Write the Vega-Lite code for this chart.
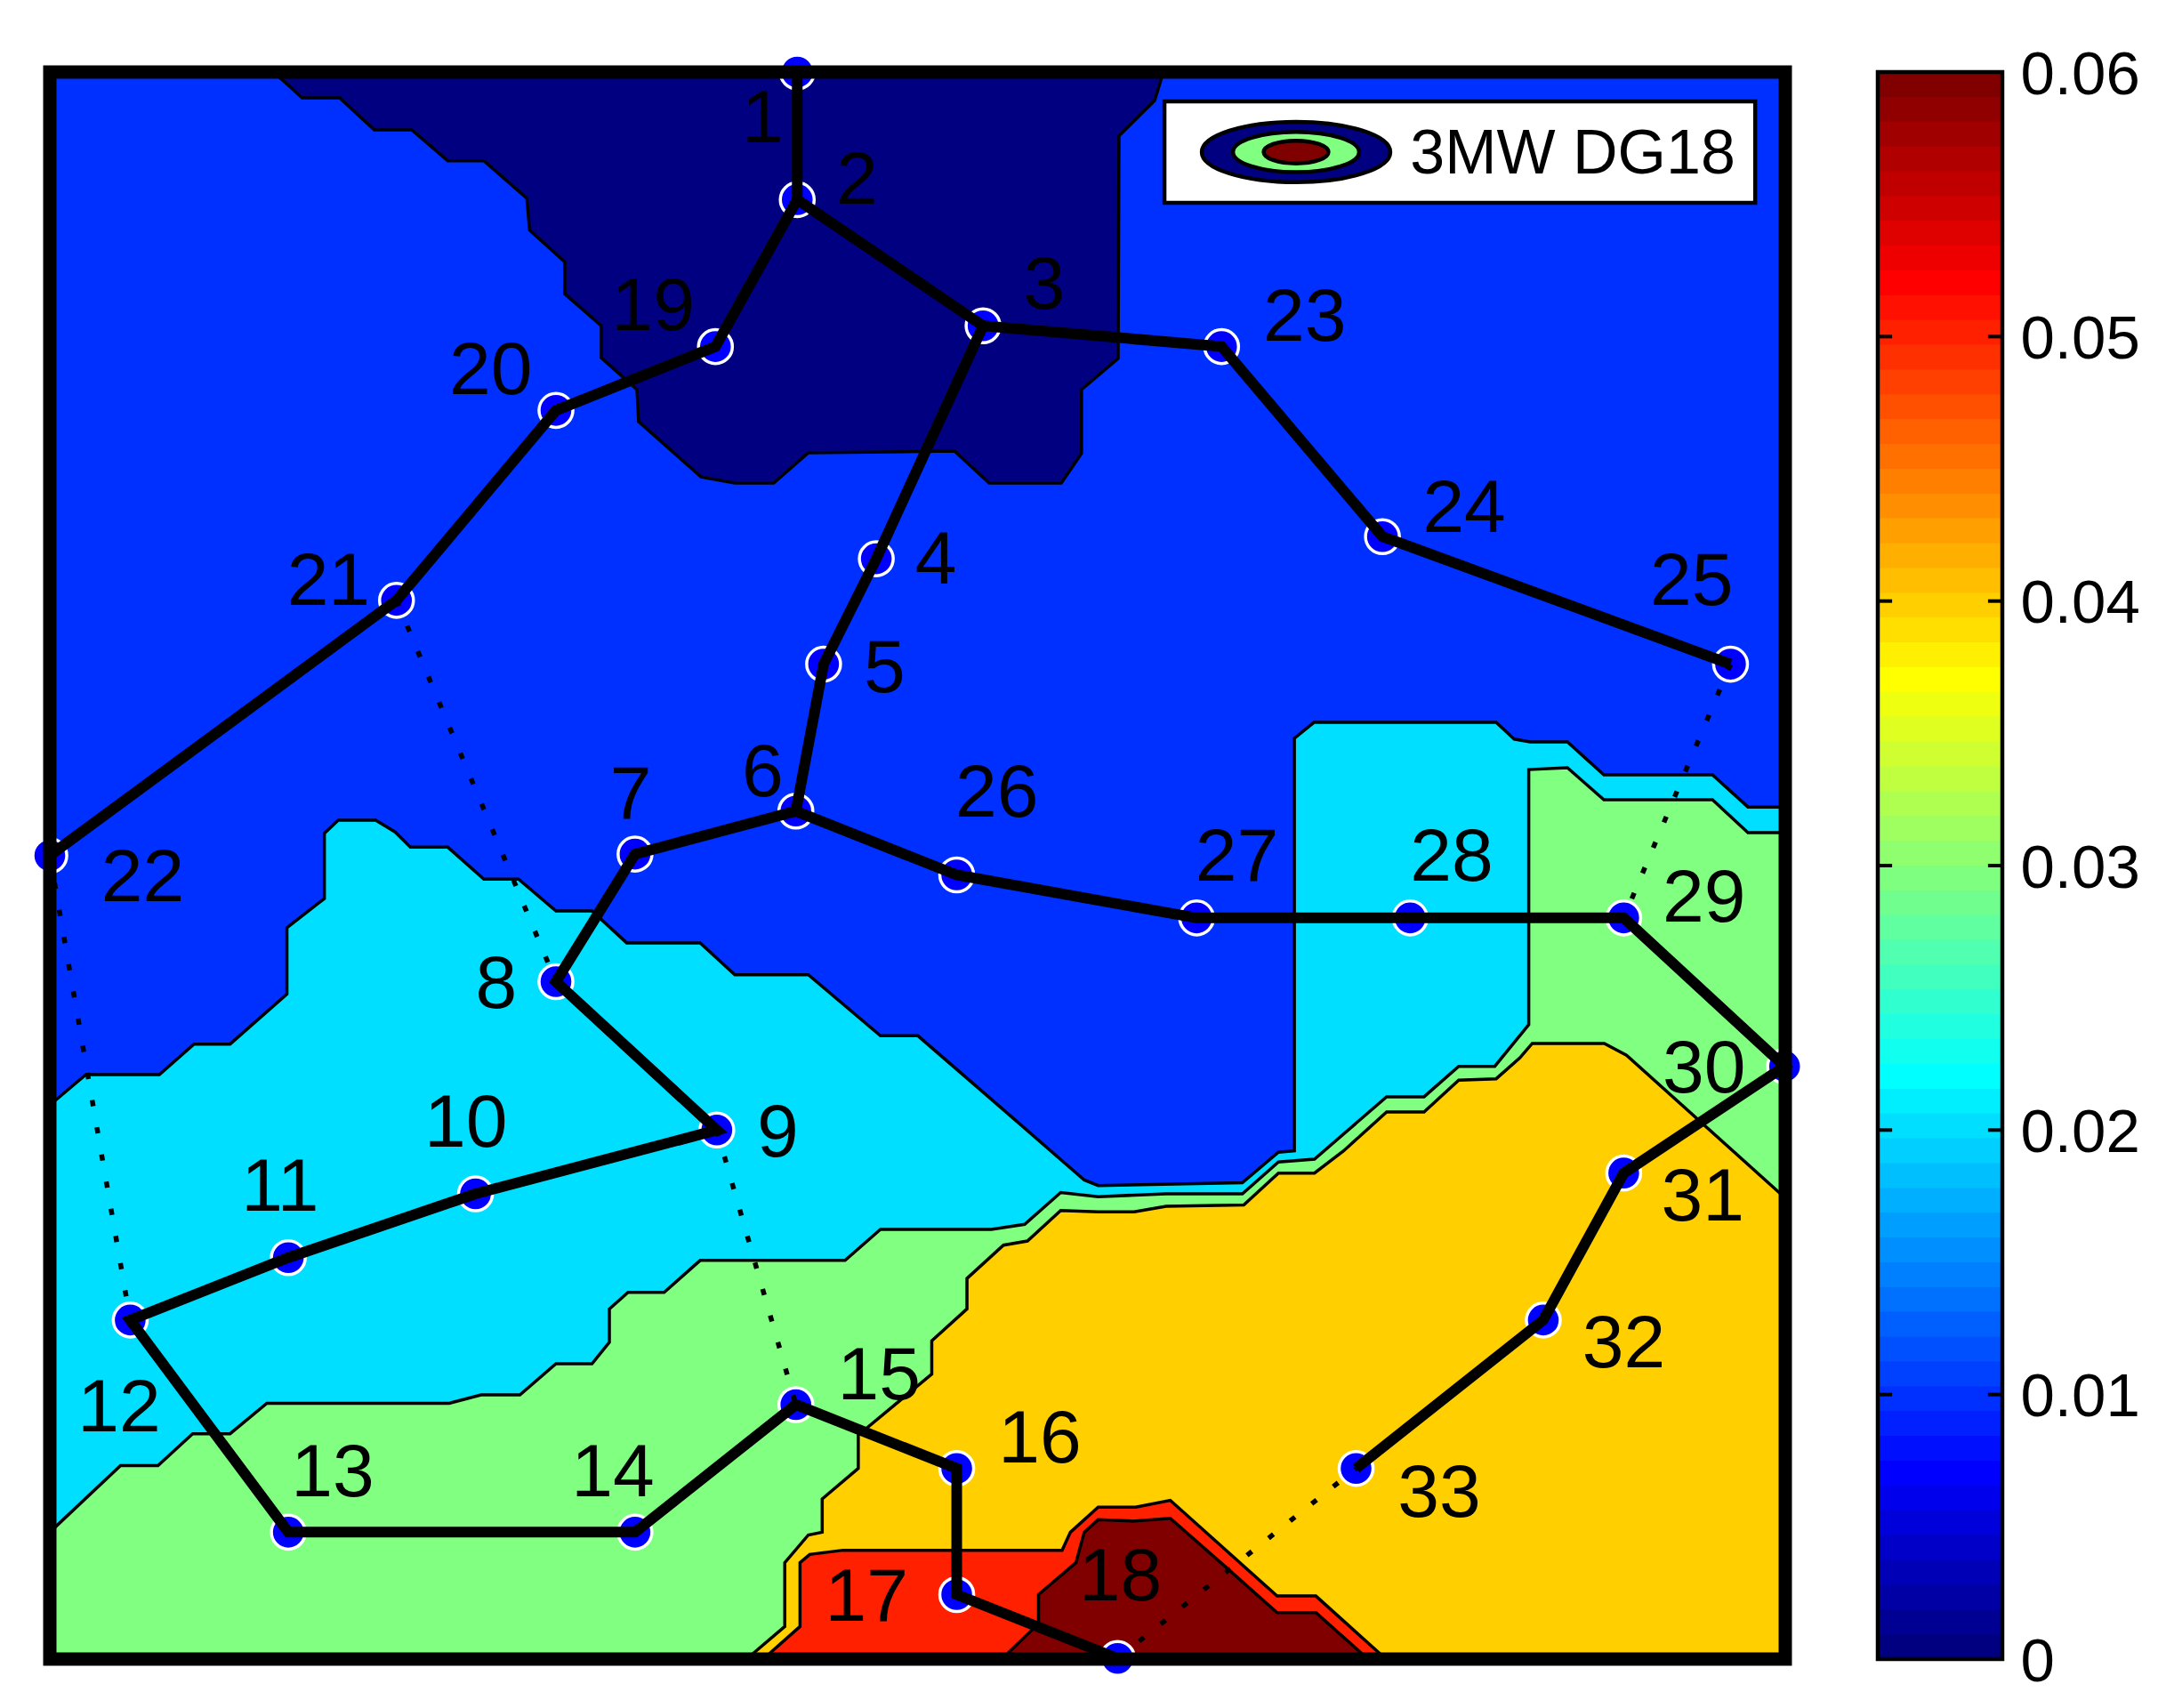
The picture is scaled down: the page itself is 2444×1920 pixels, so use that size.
{
"$schema":"https://vega.github.io/schema/vega-lite/v6.json",
"background":"white",
"padding":{"left":29,"top":50,"right":0,"bottom":0},
"config":{"view":{"stroke":null},"font":"Liberation Sans"},
"spacing":104,
"bounds":"flush",
"datasets":{
"frame":[{"x":36,"y":52,"x2":1287.5,"y2":1196.5}],
"navy":[{"x":197,"y":52},{"x":203,"y":57},{"x":218,"y":70.6},{"x":245,"y":70.6},{"x":270,"y":93.7},{"x":297,"y":93.7},{"x":323,"y":116},{"x":349,"y":116},{"x":380,"y":143},{"x":382,"y":166},{"x":407.4,"y":189},{"x":407.4,"y":212},{"x":433.7,"y":235},{"x":433.7,"y":258},{"x":459.4,"y":281},{"x":460.6,"y":304},{"x":505.6,"y":344},{"x":530,"y":348.4},{"x":558,"y":348.4},{"x":583,"y":326.5},{"x":688.4,"y":325.3},{"x":713.4,"y":348.4},{"x":765.4,"y":348.4},{"x":780,"y":327},{"x":780,"y":281},{"x":806.4,"y":258.5},{"x":807,"y":98},{"x":832.7,"y":72.5},{"x":839,"y":52}],
"bands":[
{"level":"0.02","x":36,"y":797},{"level":"0.02","x":62,"y":775},{"level":"0.02","x":115,"y":775},{"level":"0.02","x":140,"y":753},{"level":"0.02","x":166,"y":753},{"level":"0.02","x":207,"y":717},{"level":"0.02","x":207,"y":669},{"level":"0.02","x":234,"y":648},{"level":"0.02","x":234,"y":601},{"level":"0.02","x":244,"y":591.5},{"level":"0.02","x":271,"y":591.5},{"level":"0.02","x":285,"y":600},{"level":"0.02","x":296,"y":611},{"level":"0.02","x":323,"y":611},{"level":"0.02","x":349,"y":634},{"level":"0.02","x":374,"y":634},{"level":"0.02","x":401,"y":657},{"level":"0.02","x":427,"y":657},{"level":"0.02","x":452,"y":680},{"level":"0.02","x":505,"y":680},{"level":"0.02","x":530,"y":703},{"level":"0.02","x":583,"y":703},{"level":"0.02","x":635,"y":747},{"level":"0.02","x":662,"y":747},{"level":"0.02","x":706,"y":785},{"level":"0.02","x":782,"y":851},{"level":"0.02","x":792,"y":855},{"level":"0.02","x":896,"y":853},{"level":"0.02","x":922,"y":831},{"level":"0.02","x":933.5,"y":830},{"level":"0.02","x":933.5,"y":532.5},{"level":"0.02","x":947.6,"y":521},{"level":"0.02","x":1079,"y":521},{"level":"0.02","x":1092,"y":533},{"level":"0.02","x":1103.5,"y":535},{"level":"0.02","x":1130.4,"y":535},{"level":"0.02","x":1156.7,"y":558.8},{"level":"0.02","x":1235,"y":558.8},{"level":"0.02","x":1260.6,"y":582},{"level":"0.02","x":1287.5,"y":582},
{"level":"0.03","x":36,"y":1105},{"level":"0.03","x":87,"y":1057},{"level":"0.03","x":114,"y":1057},{"level":"0.03","x":139,"y":1034},{"level":"0.03","x":166,"y":1034},{"level":"0.03","x":192.5,"y":1012},{"level":"0.03","x":324,"y":1012},{"level":"0.03","x":347,"y":1006},{"level":"0.03","x":375,"y":1006},{"level":"0.03","x":401,"y":983.5},{"level":"0.03","x":427,"y":983.5},{"level":"0.03","x":439.5,"y":968},{"level":"0.03","x":439.5,"y":944},{"level":"0.03","x":453,"y":932},{"level":"0.03","x":479,"y":932},{"level":"0.03","x":505,"y":909},{"level":"0.03","x":609.5,"y":909},{"level":"0.03","x":635,"y":886.6},{"level":"0.03","x":715,"y":886.6},{"level":"0.03","x":739,"y":883},{"level":"0.03","x":765,"y":860},{"level":"0.03","x":792,"y":863},{"level":"0.03","x":841,"y":861},{"level":"0.03","x":896,"y":861},{"level":"0.03","x":922,"y":838},{"level":"0.03","x":948,"y":836},{"level":"0.03","x":1000,"y":791},{"level":"0.03","x":1027,"y":791},{"level":"0.03","x":1052,"y":769},{"level":"0.03","x":1078,"y":769},{"level":"0.03","x":1102.5,"y":739},{"level":"0.03","x":1102.5,"y":555},{"level":"0.03","x":1130.4,"y":553.7},{"level":"0.03","x":1156.7,"y":576.8},{"level":"0.03","x":1235,"y":576.8},{"level":"0.03","x":1260.6,"y":600.5},{"level":"0.03","x":1287.5,"y":600.5},
{"level":"0.04","x":539,"y":1196},{"level":"0.04","x":566,"y":1173},{"level":"0.04","x":566,"y":1127},{"level":"0.04","x":583,"y":1107},{"level":"0.04","x":593,"y":1105},{"level":"0.04","x":593,"y":1081},{"level":"0.04","x":619,"y":1059},{"level":"0.04","x":619,"y":1035},{"level":"0.04","x":672,"y":991},{"level":"0.04","x":672,"y":967},{"level":"0.04","x":697.4,"y":944},{"level":"0.04","x":697.4,"y":922},{"level":"0.04","x":723.7,"y":898},{"level":"0.04","x":741,"y":895},{"level":"0.04","x":765,"y":873},{"level":"0.04","x":792,"y":874},{"level":"0.04","x":818,"y":874},{"level":"0.04","x":841,"y":870},{"level":"0.04","x":897,"y":869},{"level":"0.04","x":922,"y":846},{"level":"0.04","x":948,"y":846},{"level":"0.04","x":969,"y":830},{"level":"0.04","x":1000,"y":802},{"level":"0.04","x":1027,"y":802},{"level":"0.04","x":1052,"y":779},{"level":"0.04","x":1079,"y":778},{"level":"0.04","x":1096,"y":763},{"level":"0.04","x":1105,"y":752.5},{"level":"0.04","x":1157,"y":752.5},{"level":"0.04","x":1173,"y":761},{"level":"0.04","x":1287.5,"y":864},
{"level":"0.05","x":551,"y":1196},{"level":"0.05","x":577,"y":1173},{"level":"0.05","x":577,"y":1127},{"level":"0.05","x":584,"y":1121},{"level":"0.05","x":608,"y":1118},{"level":"0.05","x":766,"y":1118},{"level":"0.05","x":772,"y":1105},{"level":"0.05","x":792,"y":1087},{"level":"0.05","x":819,"y":1087},{"level":"0.05","x":844,"y":1082},{"level":"0.05","x":921,"y":1151},{"level":"0.05","x":949,"y":1151},{"level":"0.05","x":999,"y":1196},
{"level":"0.06","x":723,"y":1196},{"level":"0.06","x":749,"y":1171},{"level":"0.06","x":749,"y":1150},{"level":"0.06","x":776,"y":1127},{"level":"0.06","x":782,"y":1105},{"level":"0.06","x":792,"y":1096},{"level":"0.06","x":817,"y":1097},{"level":"0.06","x":844,"y":1095},{"level":"0.06","x":885,"y":1131},{"level":"0.06","x":921,"y":1163},{"level":"0.06","x":949,"y":1163},{"level":"0.06","x":986,"y":1196}],
"nodes":[{"x":575,"y":52},{"x":575,"y":144},{"x":709,"y":235},{"x":632,"y":403},{"x":594,"y":479},{"x":574,"y":585},{"x":458,"y":616},{"x":401,"y":708},{"x":517,"y":815},{"x":343,"y":861},{"x":208,"y":907},{"x":94,"y":952},{"x":208,"y":1105},{"x":458,"y":1105},{"x":574,"y":1013},{"x":690,"y":1059},{"x":690,"y":1150},{"x":806,"y":1196},{"x":516,"y":250},{"x":401,"y":296},{"x":286,"y":433},{"x":36,"y":617},{"x":881,"y":250},{"x":997,"y":387},{"x":1248,"y":479},{"x":690,"y":631},{"x":863,"y":662},{"x":1017,"y":662},{"x":1171,"y":662},{"x":1287,"y":769},{"x":1171,"y":846},{"x":1113,"y":952},{"x":978,"y":1059}],
"feeders":[
{"path":"a","i":0,"x":575,"y":52},{"path":"a","i":1,"x":575,"y":144},{"path":"a","i":2,"x":709,"y":235},{"path":"a","i":3,"x":632,"y":403},{"path":"a","i":4,"x":594,"y":479},{"path":"a","i":5,"x":574,"y":585},{"path":"a","i":6,"x":458,"y":616},{"path":"a","i":7,"x":401,"y":708},{"path":"a","i":8,"x":517,"y":815},{"path":"a","i":9,"x":343,"y":861},{"path":"a","i":10,"x":208,"y":907},{"path":"a","i":11,"x":94,"y":952},{"path":"a","i":12,"x":208,"y":1105},{"path":"a","i":13,"x":458,"y":1105},{"path":"a","i":14,"x":574,"y":1013},{"path":"a","i":15,"x":690,"y":1059},{"path":"a","i":16,"x":690,"y":1150},{"path":"a","i":17,"x":806,"y":1196},
{"path":"b","i":0,"x":575,"y":144},{"path":"b","i":1,"x":516,"y":250},{"path":"b","i":2,"x":401,"y":296},{"path":"b","i":3,"x":286,"y":433},{"path":"b","i":4,"x":36,"y":617},
{"path":"c","i":0,"x":709,"y":235},{"path":"c","i":1,"x":881,"y":250},{"path":"c","i":2,"x":997,"y":387},{"path":"c","i":3,"x":1248,"y":479},
{"path":"d","i":0,"x":574,"y":585},{"path":"d","i":1,"x":690,"y":631},{"path":"d","i":2,"x":863,"y":662},{"path":"d","i":3,"x":1017,"y":662},{"path":"d","i":4,"x":1171,"y":662},{"path":"d","i":5,"x":1287,"y":769},{"path":"d","i":6,"x":1171,"y":846},{"path":"d","i":7,"x":1113,"y":952},{"path":"d","i":8,"x":978,"y":1059}],
"ties":[
{"path":"t1","i":0,"x":286,"y":433},{"path":"t1","i":1,"x":401,"y":708},
{"path":"t2","i":0,"x":36,"y":617},{"path":"t2","i":1,"x":94,"y":952},
{"path":"t3","i":0,"x":517,"y":815},{"path":"t3","i":1,"x":574,"y":1013},
{"path":"t4","i":0,"x":1248,"y":479},{"path":"t4","i":1,"x":1171,"y":662},
{"path":"t5","i":0,"x":806,"y":1196},{"path":"t5","i":1,"x":978,"y":1059}],
"labels":[{"t":"1","x":550,"y":85},{"t":"2","x":618,"y":129},{"t":"3","x":753,"y":205},{"t":"4","x":675,"y":403},{"t":"5","x":638,"y":481},{"t":"6","x":550,"y":556},{"t":"7","x":455,"y":572},{"t":"8","x":358,"y":709},{"t":"9","x":561,"y":816},{"t":"10","x":336,"y":809},{"t":"11","x":202,"y":855},{"t":"12","x":86,"y":1014},{"t":"13","x":240,"y":1061},{"t":"14","x":442,"y":1061},{"t":"15","x":634,"y":991},{"t":"16","x":750,"y":1037},{"t":"17","x":625,"y":1151},{"t":"18","x":808,"y":1136},{"t":"19","x":471,"y":220},{"t":"20","x":354,"y":266},{"t":"21","x":237,"y":418},{"t":"22","x":103,"y":632},{"t":"23","x":941,"y":228},{"t":"24","x":1056,"y":366},{"t":"25","x":1220,"y":418},{"t":"26","x":719,"y":571},{"t":"27","x":892,"y":617},{"t":"28","x":1047,"y":617},{"t":"29","x":1229,"y":647},{"t":"30","x":1229,"y":770},{"t":"31","x":1228,"y":862},{"t":"32","x":1171,"y":968},{"t":"33","x":1038,"y":1076}],
"legendBox":[{"x":839.8,"y":73.1,"x2":1265.8,"y2":146.3}],
"legendKey":[{"x":934.7,"y":109.7}],
"legendText":[{"t":"3MW DG18","x":1017,"y":109.7}],
"colorbar":[{"lo":0,"hi":0.0011},{"lo":0.00094,"hi":0.00197},{"lo":0.00188,"hi":0.00291},{"lo":0.00281,"hi":0.00384},{"lo":0.00375,"hi":0.00479},{"lo":0.00469,"hi":0.00572},{"lo":0.00563,"hi":0.00666},{"lo":0.00656,"hi":0.00759},{"lo":0.0075,"hi":0.00854},{"lo":0.00844,"hi":0.00947},{"lo":0.00938,"hi":0.01041},{"lo":0.01031,"hi":0.01134},{"lo":0.01125,"hi":0.01229},{"lo":0.01219,"hi":0.01322},{"lo":0.01313,"hi":0.01416},{"lo":0.01406,"hi":0.01509},{"lo":0.015,"hi":0.01604},{"lo":0.01594,"hi":0.01697},{"lo":0.01688,"hi":0.01791},{"lo":0.01781,"hi":0.01884},{"lo":0.01875,"hi":0.01979},{"lo":0.01969,"hi":0.02072},{"lo":0.02063,"hi":0.02166},{"lo":0.02156,"hi":0.02259},{"lo":0.0225,"hi":0.02354},{"lo":0.02344,"hi":0.02447},{"lo":0.02438,"hi":0.02541},{"lo":0.02531,"hi":0.02634},{"lo":0.02625,"hi":0.02729},{"lo":0.02719,"hi":0.02822},{"lo":0.02813,"hi":0.02916},{"lo":0.02906,"hi":0.03009},{"lo":0.03,"hi":0.03104},{"lo":0.03094,"hi":0.03197},{"lo":0.03188,"hi":0.03291},{"lo":0.03281,"hi":0.03384},{"lo":0.03375,"hi":0.03479},{"lo":0.03469,"hi":0.03572},{"lo":0.03563,"hi":0.03666},{"lo":0.03656,"hi":0.03759},{"lo":0.0375,"hi":0.03854},{"lo":0.03844,"hi":0.03947},{"lo":0.03938,"hi":0.04041},{"lo":0.04031,"hi":0.04134},{"lo":0.04125,"hi":0.04229},{"lo":0.04219,"hi":0.04322},{"lo":0.04313,"hi":0.04416},{"lo":0.04406,"hi":0.04509},{"lo":0.045,"hi":0.04604},{"lo":0.04594,"hi":0.04697},{"lo":0.04688,"hi":0.04791},{"lo":0.04781,"hi":0.04884},{"lo":0.04875,"hi":0.04979},{"lo":0.04969,"hi":0.05072},{"lo":0.05063,"hi":0.05166},{"lo":0.05156,"hi":0.05259},{"lo":0.0525,"hi":0.05354},{"lo":0.05344,"hi":0.05447},{"lo":0.05438,"hi":0.05541},{"lo":0.05531,"hi":0.05634},{"lo":0.05625,"hi":0.05729},{"lo":0.05719,"hi":0.05822},{"lo":0.05813,"hi":0.05916},{"lo":0.05906,"hi":0.06}],
"cbTicks":[{"v":0,"a":0,"b":0.115},{"v":0.01,"a":0,"b":0.115},{"v":0.02,"a":0,"b":0.115},{"v":0.03,"a":0,"b":0.115},{"v":0.04,"a":0,"b":0.115},{"v":0.05,"a":0,"b":0.115},{"v":0.06,"a":0,"b":0.115},{"v":0,"a":0.885,"b":1},{"v":0.01,"a":0.885,"b":1},{"v":0.02,"a":0.885,"b":1},{"v":0.03,"a":0.885,"b":1},{"v":0.04,"a":0.885,"b":1},{"v":0.05,"a":0.885,"b":1},{"v":0.06,"a":0.885,"b":1}]
},
"hconcat":[
{"width":1951,"height":1784,
"encoding":{
"x":{"field":"x","type":"quantitative","axis":null,"scale":{"domain":[36,1287.5],"nice":false,"zero":false}},
"y":{"field":"y","type":"quantitative","axis":null,"scale":{"domain":[52,1196.5],"reverse":true,"nice":false,"zero":false}}
},
"layer":[
{"data":{"name":"frame"},"mark":{"type":"rect","fill":"#0030ff"},"encoding":{"x2":{"field":"x2"},"y2":{"field":"y2"}}},
{"data":{"name":"navy"},"mark":{"type":"area","orient":"vertical","fill":"#000080","stroke":"black","strokeWidth":3.5,"strokeJoin":"miter"},"encoding":{"y2":{"datum":52}}},
{"data":{"name":"bands"},"mark":{"type":"area","orient":"vertical","stroke":"black","strokeWidth":3.5,"strokeJoin":"miter"},"encoding":{"y2":{"datum":1196.5},"color":{"field":"level","type":"nominal","legend":null,"scale":{"domain":["0.02","0.03","0.04","0.05","0.06"],"range":["#00dfff","#80ff80","#ffcf00","#ff2000","#800000"]}}}},
{"data":{"name":"nodes"},"mark":{"type":"point","shape":"circle","filled":true,"fill":"#0000ff","stroke":"white","strokeWidth":3.5,"size":1450,"opacity":1}},
{"data":{"name":"ties"},"mark":{"type":"line","color":"black","strokeWidth":5.5,"strokeDash":[7,24]},"encoding":{"detail":{"field":"path"},"order":{"field":"i","type":"quantitative"}}},
{"data":{"name":"feeders"},"mark":{"type":"line","color":"black","strokeWidth":12,"strokeJoin":"miter"},"encoding":{"detail":{"field":"path"},"order":{"field":"i","type":"quantitative"}}},
{"data":{"name":"labels"},"mark":{"type":"text","font":"Liberation Sans","fontSize":84,"dy":3,"color":"black","align":"center","baseline":"middle"},"encoding":{"text":{"field":"t"}}},
{"data":{"name":"legendBox"},"mark":{"type":"rect","fill":"white","stroke":"black","strokeWidth":4.5},"encoding":{"x2":{"field":"x2"},"y2":{"field":"y2"}}},
{"data":{"name":"legendKey"},"mark":{"type":"point","filled":true,"fill":"#000080","stroke":"black","strokeWidth":4.5,"opacity":1,"size":44900,"shape":"M-1,0A1,0.32,0,1,1,1,0A1,0.32,0,1,1,-1,0Z"}},
{"data":{"name":"legendKey"},"mark":{"type":"point","filled":true,"fill":"#80ff80","stroke":"black","strokeWidth":4.5,"opacity":1,"size":20100,"shape":"M-1,0A1,0.32,0,1,1,1,0A1,0.32,0,1,1,-1,0Z"}},
{"data":{"name":"legendKey"},"mark":{"type":"point","filled":true,"fill":"#800000","stroke":"black","strokeWidth":4.5,"opacity":1,"size":5300,"shape":"M-1,0A1,0.35,0,1,1,1,0A1,0.35,0,1,1,-1,0Z"}},
{"data":{"name":"legendText"},"mark":{"type":"text","font":"Liberation Sans","fontSize":70,"dy":3,"color":"black","align":"left","baseline":"middle"},"encoding":{"text":{"field":"t"}}},
{"data":{"name":"frame"},"mark":{"type":"rect","fill":null,"stroke":"black","strokeWidth":15},"encoding":{"x2":{"field":"x2"},"y2":{"field":"y2"}}}
]},
{"width":140,"height":1784,
"layer":[
{"data":{"name":"colorbar"},"mark":{"type":"rect"},"encoding":{
"x":{"datum":0,"type":"quantitative","axis":null,"scale":{"domain":[0,1],"nice":false,"zero":false}},
"x2":{"datum":1},
"y":{"field":"lo","type":"quantitative","scale":{"domain":[0,0.06],"nice":false,"zero":false},"axis":{"orient":"right","title":null,"values":[0,0.01,0.02,0.03,0.04,0.05,0.06],"format":".2~f","domain":false,"ticks":false,"grid":false,"labelFont":"Liberation Sans","labelFontSize":69,"labelColor":"black","labelPadding":20,"labelOffset":3,"labelOverlap":false,"labelBound":false,"labelFlush":false}},
"y2":{"field":"hi"},
"color":{"field":"lo","type":"quantitative","legend":null,"scale":{"domain":[0,0.00656,0.02156,0.03656,0.05156,0.05906],"range":["#000080","#0000ff","#00ffff","#ffff00","#ff0000","#800000"],"interpolate":"rgb"}}
}},
{"data":{"name":"cbTicks"},"mark":{"type":"rule","color":"black","strokeWidth":4},"encoding":{
"x":{"field":"a","type":"quantitative"},"x2":{"field":"b"},"y":{"field":"v","type":"quantitative"}}},
{"data":{"name":"frame"},"mark":{"type":"rect","fill":null,"stroke":"black","strokeWidth":4.5},"encoding":{
"x":{"datum":0,"type":"quantitative"},"x2":{"datum":1},"y":{"datum":0,"type":"quantitative"},"y2":{"datum":0.06}}}
]}
]
}
